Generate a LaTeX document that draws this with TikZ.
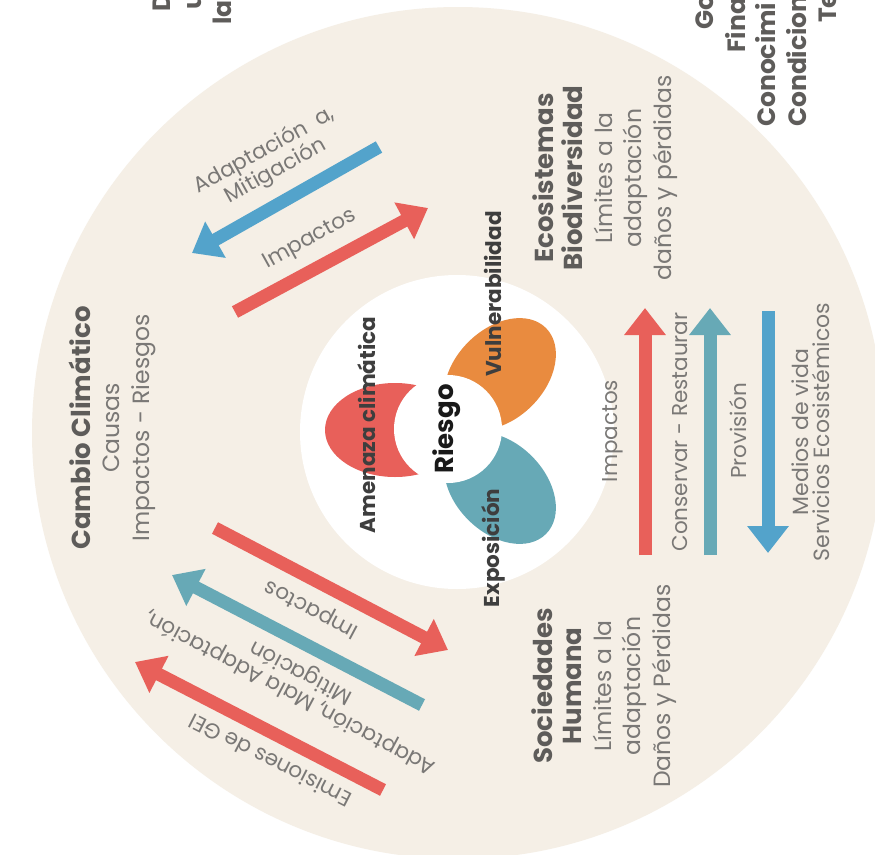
\documentclass[tikz,border=0pt]{standalone}
\usepackage{fontspec}
\setmainfont{Poppins}
\usetikzlibrary{arrows.meta}
\definecolor{beige}{HTML}{F5EFE6}
\definecolor{cred}{HTML}{E8605A}
\definecolor{corange}{HTML}{E98B3F}
\definecolor{cteal}{HTML}{67A9B6}
\definecolor{cblue}{HTML}{53A3CB}
\definecolor{tgray}{HTML}{7A7876}
\definecolor{hgray}{HTML}{5E5C5A}
\definecolor{dgray}{HTML}{3E3E3E}
\newcommand{\hb}[1]{{\bfseries\fontsize{26}{29.5}\selectfont\color{hgray}#1}}
\tikzset{
  fatarrow/.style={line width=13pt, -{Triangle[width=40pt,length=27pt]}},
  blocktxt/.style={font=\fontsize{23.5}{29.5}\selectfont, text=tgray, align=center, rotate=90, inner sep=0pt},
  arrtxt/.style={font=\fontsize{21.5}{23}\selectfont, text=tgray, align=center, inner sep=0pt},
  petaltxt/.style={font=\bfseries\fontsize{21.5}{22}\selectfont, text=dgray, rotate=90, inner sep=0pt},
  cuttxt/.style={font=\bfseries\fontsize{25}{29}\selectfont, text=hgray, rotate=90, inner sep=0pt, anchor=west},
}
\begin{document}
\begin{tikzpicture}[x=1pt,y=-1pt]
\useasboundingbox (0,0) rectangle (875,854);
\clip (0,0) rectangle (875,854);
\fill[white] (0,0) rectangle (875,854);
% rings
\fill[beige] (458,433) circle (426pt);
\fill[white] (457,432) circle (157pt);
% petals
\fill[cred] (395,430) ellipse [x radius=70pt, y radius=47pt];
\fill[corange, rotate around={45:(500,374)}] (500,374) ellipse [x radius=65pt, y radius=45pt];
\fill[cteal, rotate around={-45:(500,488)}] (500,488) ellipse [x radius=65pt, y radius=45pt];
\fill[white] (448,429) circle (54pt);
% petal labels
\node[petaltxt] (amenaza) at (367,425) {Amenaza climática};
\node[petaltxt] (vulner) at (493,294) {Vulnerabilidad};
\node[petaltxt] (expo) at (493,548) {Exposición};
\node[font=\bfseries\fontsize{26}{30}\selectfont, text=black!90, rotate=90, inner sep=0pt] (riesgo) at (447,429) {Riesgo};
% outer blocks
\node[blocktxt] (cc) at (112,428) {\hb{Cambio Climático}\\Causas\\Impactos - Riesgos};
\node[blocktxt] (eco) at (605,178) {\hb{Ecosistemas}\\\hb{Biodiversidad}\\Límites a la\\adaptación\\daños y pérdidas};
\node[blocktxt] (soc) at (604,686) {\hb{Sociedades}\\\hb{Humana}\\Límites a la\\adaptación\\Daños y Pérdidas};
% arrows upper left
\coordinate (ul1s) at (379,147); \coordinate (ul1e) at (192,253);
\coordinate (ul2s) at (235,312); \coordinate (ul2e) at (428,208);
\draw[fatarrow, cblue] (ul1s) -- (ul1e);
\draw[fatarrow, cred] (ul2s) -- (ul2e);
\node[arrtxt, rotate=29] (ul1t) at (270,161) {Adaptación \ a,\\Mitigación};
\node[arrtxt, rotate=29] (ul2t) at (310,240) {Impactos};
% arrows lower left
\coordinate (ll1s) at (215,528); \coordinate (ll1e) at (448,650);
\coordinate (ll2s) at (422,705); \coordinate (ll2e) at (172,575);
\coordinate (ll3s) at (383,790); \coordinate (ll3e) at (135,662);
\draw[fatarrow, cred] (ll1s) -- (ll1e);
\draw[fatarrow, cteal] (ll2s) -- (ll2e);
\draw[fatarrow, cred] (ll3s) -- (ll3e);
\node[arrtxt, rotate=152] (ll1t) at (312,608) {Impactos};
\node[arrtxt, rotate=152] (ll2t) at (296,682) {Adaptación, Mala Adaptación,\\Mitigación};
\node[arrtxt, rotate=153] (ll3t) at (270,761) {Emisiones de GEI};
% arrows right
\coordinate (r1s) at (645,555); \coordinate (r1e) at (645,308);
\coordinate (r2s) at (710,555); \coordinate (r2e) at (710,308);
\coordinate (r3s) at (768,311); \coordinate (r3e) at (768,553);
\draw[fatarrow, cred] (r1s) -- (r1e);
\draw[fatarrow, cteal] (r2s) -- (r2e);
\draw[fatarrow, cblue] (r3s) -- (r3e);
\node[arrtxt, rotate=90] (r1t) at (613,431) {Impactos};
\node[arrtxt, rotate=90] (r2t) at (680,432) {Conservar - Restaurar};
\node[arrtxt, rotate=90] (r3t) at (738,431) {Provisión};
\node[arrtxt, rotate=90, font=\fontsize{22}{21}\selectfont] (r4t) at (811,432) {Medios de vida\\Servicios Ecosistémicos};
% cut-off texts at top
\node[cuttxt] (d1) at (162,12) {D};
\node[cuttxt] (d2) at (195,10) {u};
\node[cuttxt] (d3) at (222,25) {la};
\node[cuttxt] (g1) at (705,30) {Go};
\node[cuttxt] (g2) at (736,53) {Fina};
\node[cuttxt] (g3) at (766,127) {Conocimi};
\node[cuttxt] (g4) at (797,127) {Condicion};
\node[cuttxt] (g5) at (828,23) {Te};
\end{tikzpicture}
\end{document}
